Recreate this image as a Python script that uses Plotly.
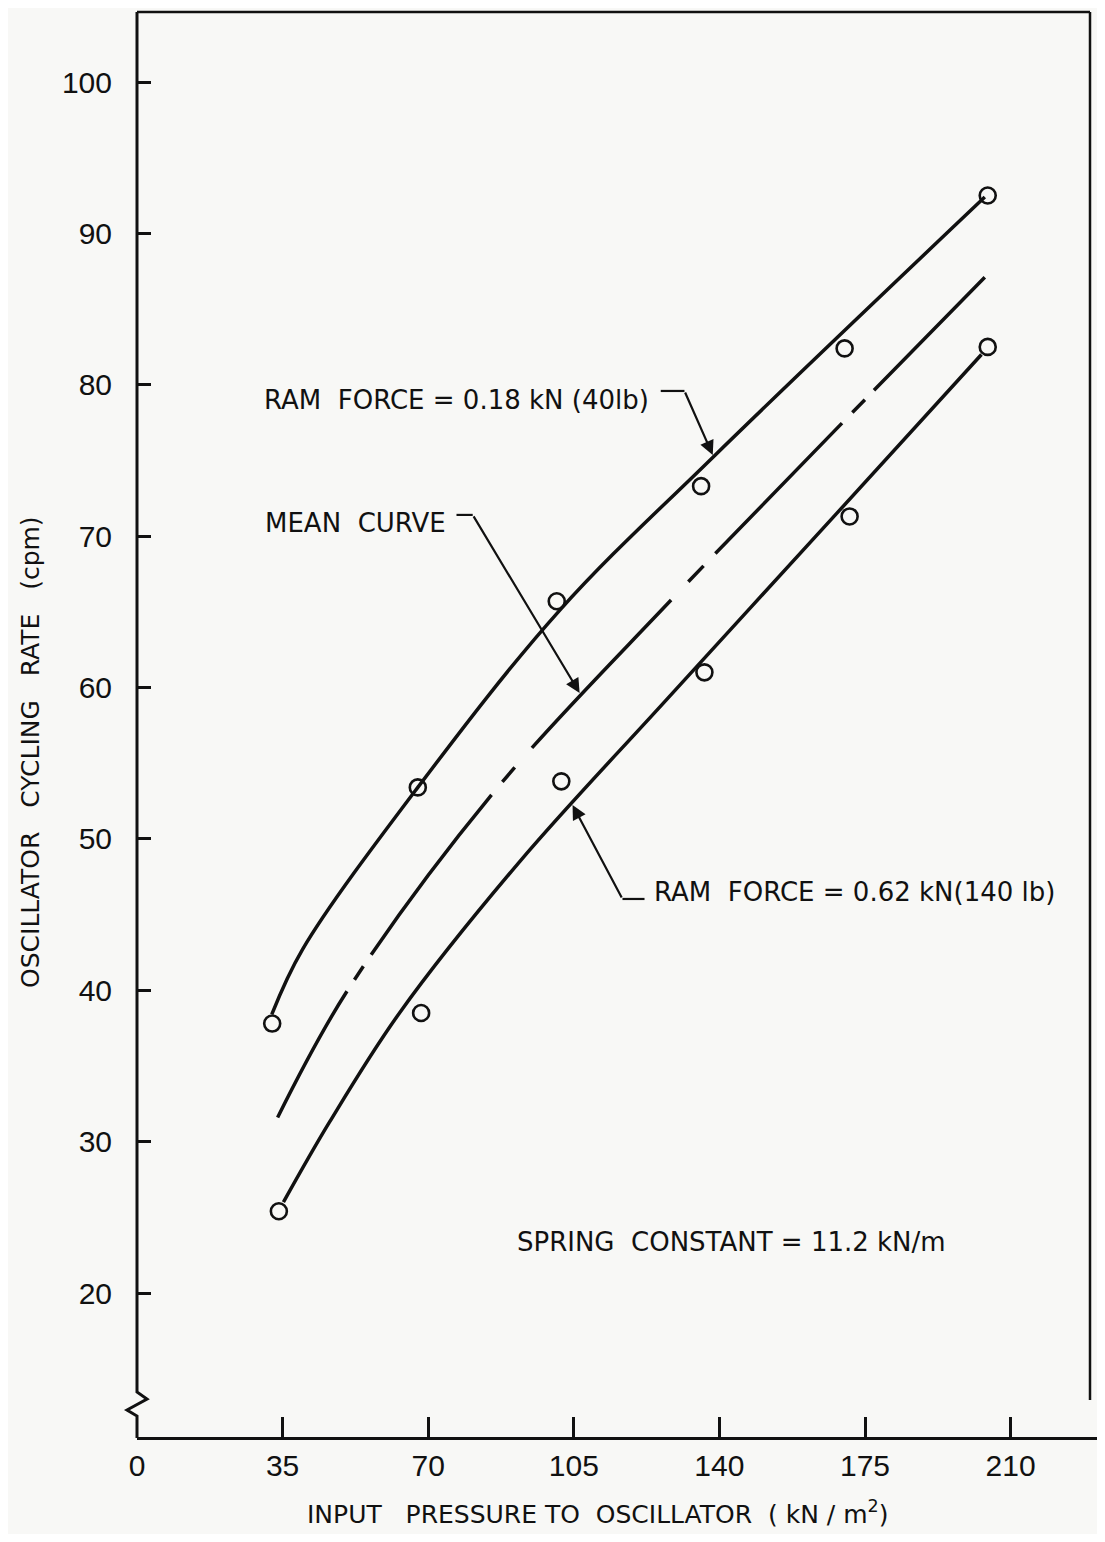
import plotly.graph_objects as go

# ---------------- data ----------------
# measured points, ram force 0.18 kN (40 lb)
p_low_force = [32.5, 67.5, 100.9, 135.6, 170.1, 204.5]
r_low_force = [37.8, 53.4, 65.7, 73.3, 82.4, 92.5]
# measured points, ram force 0.62 kN (140 lb)
p_high_force = [34.1, 68.3, 102.0, 136.4, 171.3, 204.5]
r_high_force = [25.4, 38.5, 53.8, 61.0, 71.3, 82.5]

# faired curves
curve_low_x = [32.4, 39.8, 67.5, 101.6, 138.4, 203.8]
curve_low_y = [38.4, 42.7, 53.4, 65.1, 75.2, 92.4]
curve_high_x = [35.2, 46.3, 63.1, 92.0, 127.3, 168.2, 203.0]
curve_high_y = [26.0, 31.3, 38.5, 48.5, 59.2, 71.5, 82.0]
curve_mean_x = [33.8, 50.4, 85.5, 128.8, 169.6, 203.8]
curve_mean_y = [31.6, 39.9, 53.0, 65.9, 77.5, 87.1]

x_ticks = [0, 35, 70, 105, 140, 175, 210]
x_tick_text = ["0", "35", "70", "105", "140", "175", "210"]
y_ticks = [20, 30, 40, 50, 60, 70, 80, 90, 100]
y_tick_text = ["20", "30", "40", "50", "60", "70", "80", "90", "100"]

NB = "\u00a0"
label_low = f"RAM{NB}{NB}FORCE{NB}={NB}0.18{NB}kN{NB}(40lb)"
label_high = f"RAM{NB}{NB}FORCE{NB}={NB}0.62{NB}kN(140{NB}lb)"
label_mean = f"MEAN{NB}{NB}CURVE"
label_spring = f"SPRING{NB}{NB}CONSTANT{NB}={NB}11.2{NB}kN/m"
x_title = (f"INPUT{NB}{NB}{NB}PRESSURE{NB}TO{NB}{NB}OSCILLATOR{NB}{NB}"
           f"({NB}kN{NB}/{NB}m<sup>2</sup>)")
y_title = f"OSCILLATOR{NB}{NB}{NB}CYCLING{NB}{NB}{NB}RATE{NB}{NB}{NB}(cpm)"

# ---------------- layout constants ----------------
# the page adds an 8px body margin; positions below are page pixels
OFF = 8
W, H = 1089, 1526
PL, PR, PT, PB = 137, 1097, 12, 1437          # plot area in page pixels
ML, MR, MT, MB = PL - OFF, OFF + W - PR, PT - OFF, OFF + H - PB
X_RANGE = [0, (PR - PL) / 4.16]
Y_RANGE = [20 - (PB - 1293) / 15.1375, 100 + (82 - PT) / 15.1375]
BG = "#f8f8f6"
INK = "#111111"
FONT = "DejaVu Sans"
TICKFONT = "Liberation Sans"


def px_x(px):
    return (px - PL) / (PR - PL)


def px_y(py):
    return (PB - py) / (PB - PT)


fig = go.Figure()

line_style = dict(color=INK, width=3.5, shape="spline", smoothing=1.0)
fig.add_trace(go.Scatter(x=curve_low_x, y=curve_low_y, mode="lines",
                         line=line_style, hoverinfo="skip"))
fig.add_trace(go.Scatter(x=curve_high_x, y=curve_high_y, mode="lines",
                         line=line_style, hoverinfo="skip"))
fig.add_trace(go.Scatter(
    x=curve_mean_x, y=curve_mean_y, mode="lines", hoverinfo="skip",
    line=dict(color=INK, width=3.5, shape="spline", smoothing=1.0,
              dash="144px,14px,16px,14px,200px,17px,19px,26px,203px,25px,22px,17px,182px,15px,18px,13px,170px,400px")))

marker_style = dict(symbol="circle-open", size=16, color=INK, line=dict(width=2.6, color=INK))
fig.add_trace(go.Scatter(x=p_low_force, y=r_low_force, mode="markers", marker=marker_style))
fig.add_trace(go.Scatter(x=p_high_force, y=r_high_force, mode="markers", marker=marker_style))

# text labels
txt = dict(family=FONT, size=26, color=INK)
fig.add_annotation(x=30.0, y=79.0, text=label_low, showarrow=False, xanchor="left", yanchor="middle", font=txt)
fig.add_annotation(x=30.3, y=70.9, text=label_mean, showarrow=False, xanchor="left", yanchor="middle", font=txt)
fig.add_annotation(x=123.9, y=46.5, text=label_high, showarrow=False, xanchor="left", yanchor="middle", font=txt)
fig.add_annotation(x=90.8, y=23.4, text=label_spring, showarrow=False, xanchor="left", yanchor="middle", font=txt)

# leader arrows (tip, tail) and their short horizontal hooks
arrows = [((138.4, 75.36), (131.6, 79.59), 125.9),
          ((106.4, 59.64), (80.7, 71.4), 76.8),
          ((104.7, 52.24), (116.7, 46.03), 122.0)]
for (tx, ty), (ax, ay), hx in arrows:
    fig.add_annotation(x=tx, y=ty, ax=ax, ay=ay, axref="x", ayref="y", text="",
                       showarrow=True, arrowhead=2, arrowsize=1.3, arrowwidth=2.2,
                       arrowcolor=INK, standoff=0)
    fig.add_shape(type="line", x0=hx, y0=ay, x1=ax, y1=ay, xref="x", yref="y",
                  line=dict(color=INK, width=2.2))

# axis titles
fig.add_annotation(x=px_x(597), y=px_y(1512), xref="paper", yref="paper", text=x_title,
                   xanchor="center", yanchor="middle",
                   showarrow=False, font=dict(family=FONT, size=25, color=INK))
fig.add_annotation(x=px_x(30), y=px_y(752), xref="paper", yref="paper", text=y_title,
                   xanchor="center", yanchor="middle",
                   textangle=-90, showarrow=False, font=dict(family=FONT, size=25, color=INK))

# left axis line with break symbol, top and right frame lines
left_path = (f"M {px_x(137)},{px_y(12)} L {px_x(137)},{px_y(1392)} "
             f"L {px_x(147)},{px_y(1399)} L {px_x(127)},{px_y(1410)} "
             f"L {px_x(137)},{px_y(1416)} L {px_x(137)},{px_y(1438)}")
fig.add_shape(type="path", path=left_path, xref="paper", yref="paper",
              line=dict(color=INK, width=3))
fig.add_shape(type="line", x0=px_x(137), y0=px_y(12), x1=px_x(1090), y1=px_y(12),
              xref="paper", yref="paper", line=dict(color=INK, width=2.5))
fig.add_shape(type="line", x0=px_x(1090), y0=px_y(12), x1=px_x(1090), y1=px_y(1400),
              xref="paper", yref="paper", line=dict(color=INK, width=2.5))

fig.update_xaxes(range=X_RANGE, tickvals=x_ticks, ticktext=x_tick_text, ticks="inside",
                 ticklen=20, tickwidth=2.5, tickcolor=INK, showline=True, linewidth=3,
                 linecolor=INK, showgrid=False, zeroline=False,
                 tickfont=dict(family=TICKFONT, size=30, color=INK))
fig.update_yaxes(range=Y_RANGE, tickvals=y_ticks, ticktext=y_tick_text, ticks="inside",
                 ticklen=14, tickwidth=2.5, tickcolor=INK, showline=False,
                 showgrid=False, zeroline=False, ticklabelstandoff=24,
                 tickfont=dict(family=TICKFONT, size=30, color=INK))

fig.update_layout(width=W, height=H, showlegend=False,
                  margin=dict(l=ML, r=MR, t=MT, b=MB, pad=0),
                  paper_bgcolor=BG, plot_bgcolor=BG)

fig.write_html("out.html")
